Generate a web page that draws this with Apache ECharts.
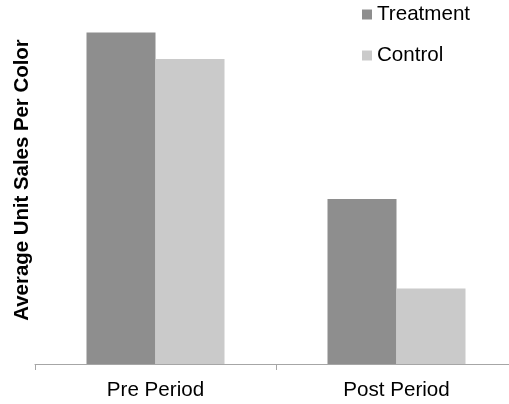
<!DOCTYPE html>
<html>
<head>
<meta charset="utf-8">
<script src="https://cdn.jsdelivr.net/npm/echarts@6/dist/echarts.min.js"></script>
<style>
html,body{margin:0;padding:0;background:#fff;}
#chart{width:509px;height:404px;}
</style>
</head>
<body>
<div id="chart"></div>
<script>
const categories = ['Pre Period', 'Post Period'];
const seriesNames = ['Treatment', 'Control'];
const treatmentValues = [331.5, 165];
const controlValues = [305, 75.5];
const yTitle = 'Average Unit Sales Per Color';

const chart = echarts.init(document.getElementById('chart'), null, {renderer: 'canvas'});
const font = 'Liberation Sans, Arial, Helvetica, sans-serif';
chart.setOption({
  animation: false,
  backgroundColor: '#ffffff',
  grid: {left: 35, width: 482, top: 14, bottom: 40, containLabel: false, outerBoundsMode: 'none'},
  legend: {
    orient: 'vertical',
    left: 362,
    top: 4,
    padding: 0,
    itemWidth: 10,
    itemHeight: 10,
    itemGap: 20,
    icon: 'rect',
    textStyle: {fontFamily: font, fontSize: 20.6, color: '#000', lineHeight: 20},
    data: seriesNames
  },
  xAxis: {
    type: 'category',
    data: categories,
    boundaryGap: true,
    axisLine: {show: true, lineStyle: {color: '#a6a6a6', width: 1}},
    axisTick: {show: true, length: 6, alignWithLabel: false, lineStyle: {color: '#a6a6a6'}},
    axisLabel: {fontFamily: font, fontSize: 20.6, color: '#000', margin: 16}
  },
  yAxis: {
    type: 'value',
    min: 0,
    max: 350,
    axisLine: {show: false},
    axisTick: {show: false},
    axisLabel: {show: false},
    splitLine: {show: false}
  },
  graphic: [{
    type: 'text',
    x: 22,
    y: 180,
    rotation: Math.PI / 2,
    style: {
      text: yTitle,
      fontFamily: font,
      fontSize: 20.4,
      fontWeight: 'bold',
      fill: '#000',
      align: 'center',
      verticalAlign: 'middle'
    }
  }],
  series: [
    {
      name: seriesNames[0],
      type: 'bar',
      data: treatmentValues,
      barWidth: 69,
      barGap: '0%',
      itemStyle: {color: '#8e8e8e'}
    },
    {
      name: seriesNames[1],
      type: 'bar',
      data: controlValues,
      barWidth: 69,
      barGap: '0%',
      itemStyle: {color: '#cacaca'}
    }
  ]
});
</script>
</body>
</html>
